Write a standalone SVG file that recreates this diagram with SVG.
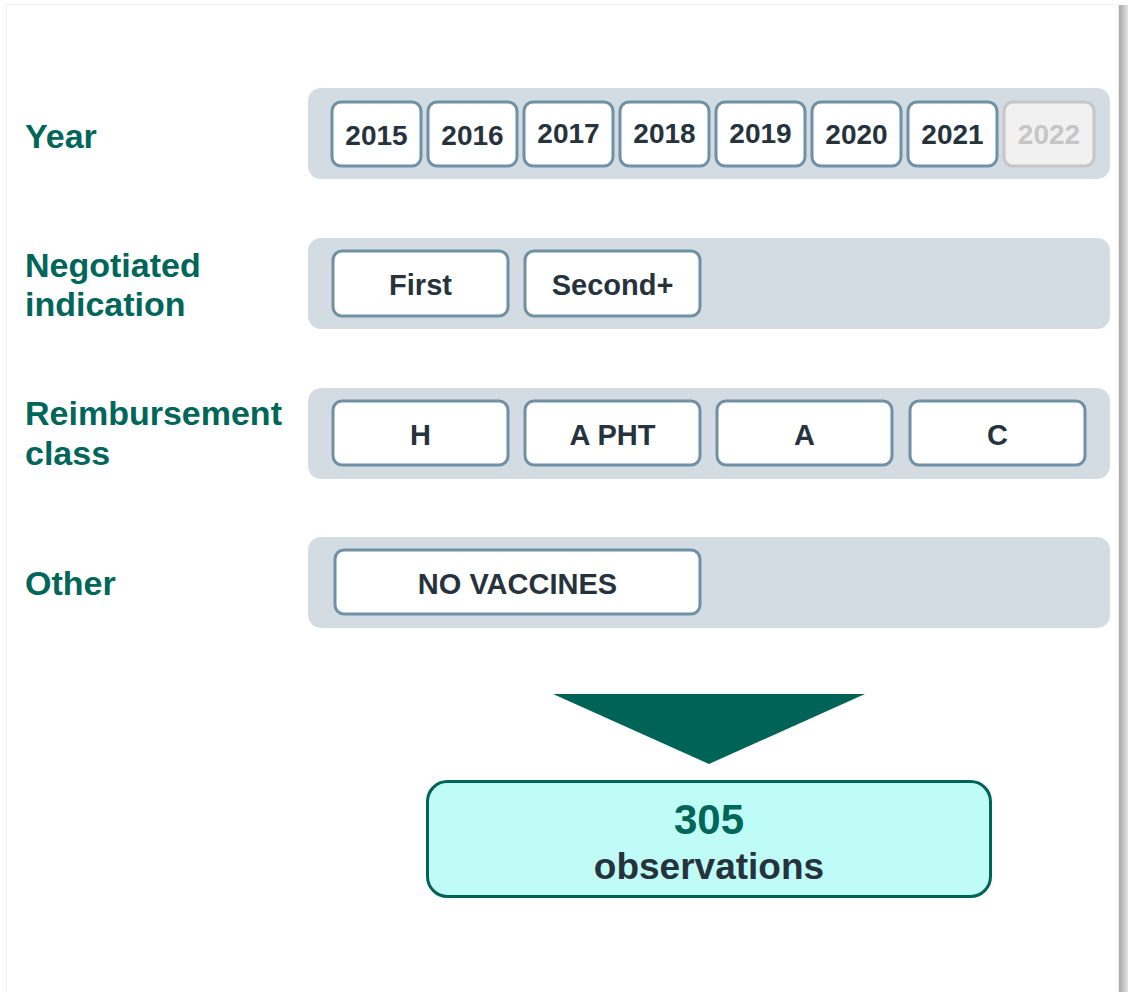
<svg xmlns="http://www.w3.org/2000/svg" width="1128" height="992" viewBox="0 0 1128 992">
<defs>
<linearGradient id="shadow" x1="0" y1="0" x2="1" y2="0">
<stop offset="0" stop-color="#a6a6a6"/>
<stop offset="1" stop-color="#e4e4e4"/>
</linearGradient>
<style>
.lbl{font-family:"Liberation Sans",Arial,sans-serif;font-weight:bold;font-size:34px;fill:#00665a}
.panel{fill:#d4dce3}
.box{fill:#ffffff;stroke:#6f90a5;stroke-width:3}
.off{fill:#f1f1f1;stroke:#c6c6c6;stroke-width:3}
.t{font-family:"Liberation Sans",Arial,sans-serif;font-weight:bold;font-size:29px;fill:#26333d;text-anchor:middle}
.yr{font-size:28px}
.offt{fill:#c6c6c6}
</style>
</defs>
<rect x="0" y="0" width="1128" height="992" fill="#ffffff"/>
<rect x="6.5" y="4.5" width="1112" height="990" fill="#ffffff" stroke="#f0f0f0" stroke-width="1"/>
<rect x="1119" y="5" width="9" height="987" fill="url(#shadow)"/>

<g id="labels">
<text class="lbl" x="25" y="148">Year</text>
<text class="lbl" x="25" y="277">Negotiated</text>
<text class="lbl" x="25" y="316">indication</text>
<text class="lbl" x="25" y="425">Reimbursement</text>
<text class="lbl" x="25" y="465">class</text>
<text class="lbl" x="25" y="595">Other</text>
</g>

<g id="row-year">
<rect class="panel" x="308" y="88" width="802" height="91" rx="13"/>
<g id="y2015"><rect class="box" x="332" y="102" width="89" height="64" rx="9"/><text class="t yr" x="376.5" y="145">2015</text></g>
<g id="y2016"><rect class="box" x="428" y="102" width="89" height="64" rx="9"/><text class="t yr" x="472.5" y="145">2016</text></g>
<g id="y2017"><rect class="box" x="524" y="102" width="89" height="64" rx="9"/><text class="t yr" x="568.5" y="143">2017</text></g>
<g id="y2018"><rect class="box" x="620" y="102" width="89" height="64" rx="9"/><text class="t yr" x="664.5" y="143">2018</text></g>
<g id="y2019"><rect class="box" x="716" y="102" width="89" height="64" rx="9"/><text class="t yr" x="760.5" y="143">2019</text></g>
<g id="y2020"><rect class="box" x="812" y="102" width="89" height="64" rx="9"/><text class="t yr" x="856.5" y="144">2020</text></g>
<g id="y2021"><rect class="box" x="908" y="102" width="89" height="64" rx="9"/><text class="t yr" x="952.5" y="144">2021</text></g>
<g id="y2022"><rect class="off" x="1004" y="102" width="90" height="64" rx="9"/><text class="t yr offt" x="1049" y="144">2022</text></g>
</g>

<g id="row-indication">
<rect class="panel" x="308" y="238" width="802" height="91" rx="13"/>
<g id="first"><rect class="box" x="333" y="251" width="175" height="65" rx="9"/><text class="t" x="420.5" y="295">First</text></g>
<g id="second"><rect class="box" x="525" y="251" width="175" height="65" rx="9"/><text class="t" x="612.5" y="295">Second+</text></g>
</g>

<g id="row-class">
<rect class="panel" x="308" y="388" width="802" height="91" rx="13"/>
<g id="cH"><rect class="box" x="333" y="401" width="175" height="64" rx="9"/><text class="t" x="420.5" y="445">H</text></g>
<g id="cAPHT"><rect class="box" x="525" y="401" width="175" height="64" rx="9"/><text class="t" x="612.5" y="445">A PHT</text></g>
<g id="cA"><rect class="box" x="717" y="401" width="175" height="64" rx="9"/><text class="t" x="804.5" y="445">A</text></g>
<g id="cC"><rect class="box" x="910" y="401" width="175" height="64" rx="9"/><text class="t" x="997.5" y="445">C</text></g>
</g>

<g id="row-other">
<rect class="panel" x="308" y="537" width="802" height="91" rx="13"/>
<g id="novacc"><rect class="box" x="335" y="550" width="365" height="64" rx="9"/><text class="t" x="517.5" y="594">NO VACCINES</text></g>
</g>

<g id="connectors">
<polygon points="553,694 865,694 709,764" fill="#006358"/>
</g>

<g id="result">
<rect x="427.5" y="781.5" width="563" height="115" rx="20" fill="#bffcf8" stroke="#006358" stroke-width="3"/>
<text x="709" y="834" text-anchor="middle" font-family="'Liberation Sans',Arial,sans-serif" font-weight="bold" font-size="42" fill="#00665a">305</text>
<text x="709" y="879" text-anchor="middle" font-family="'Liberation Sans',Arial,sans-serif" font-weight="bold" font-size="37" fill="#26333d">observations</text>
</g>
</svg>
